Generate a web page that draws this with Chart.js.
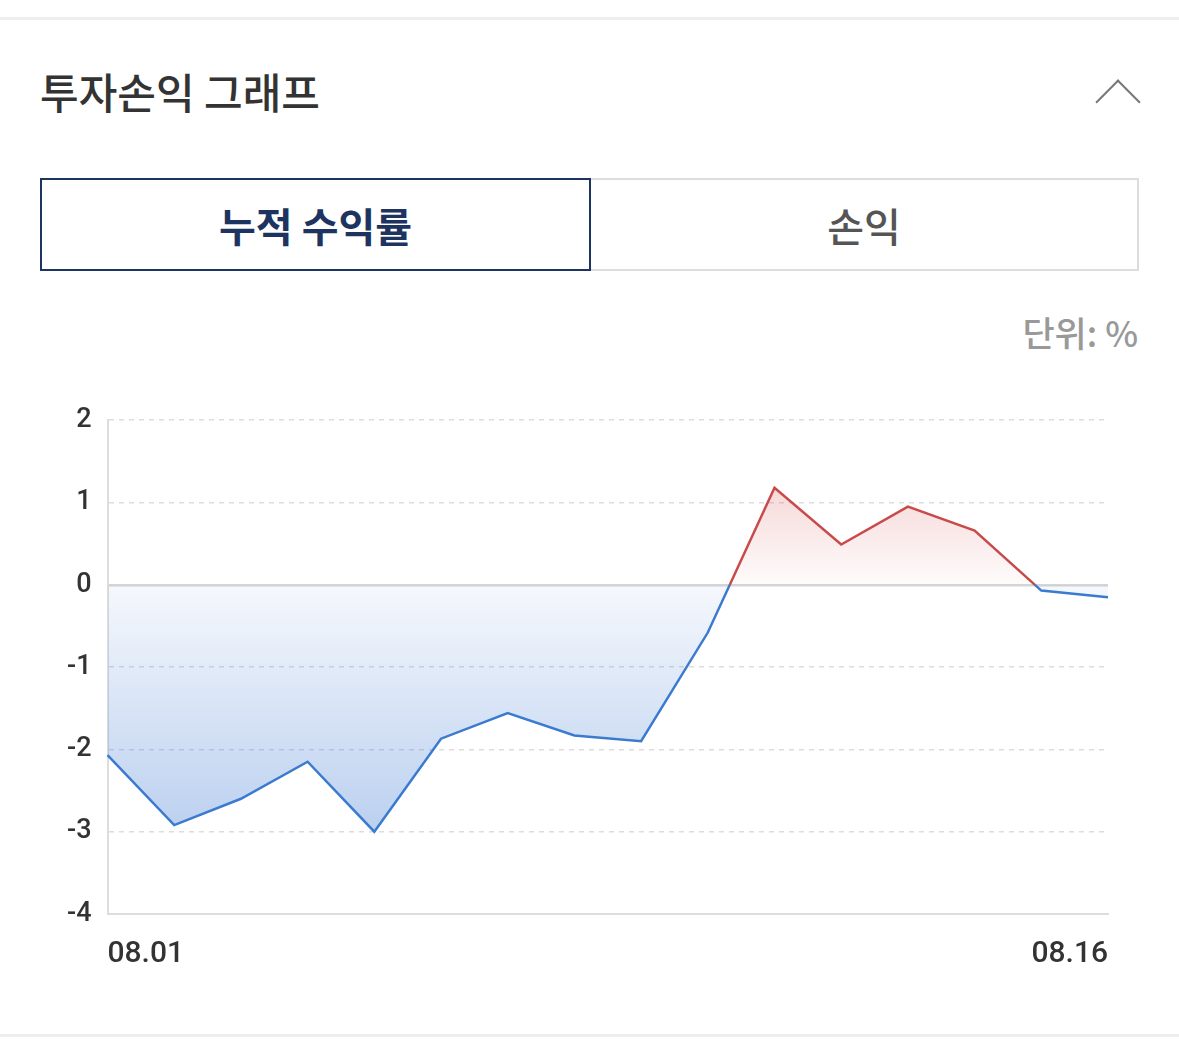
<!DOCTYPE html>
<html><head><meta charset="utf-8">
<script src="https://cdn.jsdelivr.net/npm/chart.js@4"></script>
<style>
body{margin:0;width:1179px;height:1057px;background:#fff;font-family:"Noto Sans CJK KR","Noto Sans",sans-serif;position:relative;overflow:hidden}
.line{position:absolute;left:0;width:1179px;height:3px;background:#eee}
#title{position:absolute;left:40px;top:60px;font-size:42px;font-weight:500;color:#333}
#chev{position:absolute;left:1102px;top:86px;width:30px;height:30px;border-left:2px solid #777;border-top:2px solid #777;transform:rotate(45deg)}
.tab{position:absolute;top:178px;height:93px;box-sizing:border-box;display:flex;align-items:center;justify-content:center;font-size:40px}
#t1{left:40px;width:551px;border:2px solid #1d3461;color:#1d3461;font-weight:700;z-index:2}
#t2{left:589px;width:550px;border:2px solid #ddd;color:#555;font-weight:500}
#unit{position:absolute;right:41px;top:306px;font-size:35px;color:#999;font-weight:500}
#wrap{position:absolute;left:51px;top:388px;width:1120px;height:598px}
</style></head><body>
<div class="line" style="top:17px"></div>
<div id="title">투자손익 그래프</div>
<div id="chev"></div>
<div class="tab" id="t1">누적 수익률</div>
<div class="tab" id="t2">손익</div>
<div id="unit">단위: %</div>
<div id="wrap"><canvas id="c"></canvas></div>
<div class="line" style="top:1034px"></div>
<script>
const dates=["08.01","08.02","08.03","08.04","08.05","08.06","08.07","08.08","08.09","08.10","08.11","08.12","08.13","08.14","08.15","08.16"];
const returns=[-2.07,-2.92,-2.6,-2.15,-3.0,-1.87,-1.56,-1.83,-1.9,-0.58,1.18,0.49,0.95,0.66,-0.07,-0.15];
const yTicks=[2,1,0,-1,-2,-3,-4];
function zeroGrad(ctx,a,b){
  const ch=ctx.chart,area=ch.chartArea;if(!area)return null;
  const y0=ch.scales.y.getPixelForValue(0);
  const g=ch.ctx.createLinearGradient(0,area.top,0,area.bottom);
  const s=Math.min(Math.max((y0-area.top)/(area.bottom-area.top),0),1);
  g.addColorStop(0,a);g.addColorStop(s,a);g.addColorStop(s,b);g.addColorStop(1,b);
  return g;
}
function fillGrad(ctx,up){
  const ch=ctx.chart,area=ch.chartArea;if(!area)return null;
  const y0=ch.scales.y.getPixelForValue(0);
  if(up){const yt=ch.scales.y.getPixelForValue(1.18);const g=ch.ctx.createLinearGradient(0,yt,0,y0);g.addColorStop(0,'rgba(214,80,80,0.22)');g.addColorStop(1,'rgba(214,80,80,0.02)');return g;}
  const yb=ch.scales.y.getPixelForValue(-3);const g=ch.ctx.createLinearGradient(0,y0,0,yb);g.addColorStop(0,'rgba(60,120,210,0.05)');g.addColorStop(1,'rgba(60,120,210,0.35)');return g;
}
new Chart(document.getElementById('c'),{type:'line',
data:{labels:dates,datasets:[{data:returns,borderWidth:2.5,pointRadius:0,tension:0,
 borderColor:ctx=>zeroGrad(ctx,'#c94a4a','#3a7bd0'),
 fill:{target:'origin',above:ctx=>fillGrad(ctx,true),below:ctx=>fillGrad(ctx,false)}}]},
options:{responsive:true,maintainAspectRatio:false,animation:false,
 plugins:{legend:{display:false},tooltip:{enabled:false}},
 layout:{padding:{right:63,top:10}},
 scales:{
  x:{grid:{display:false},border:{color:'#ddd',width:2},
   ticks:{autoSkip:false,maxRotation:0,align:'inner',padding:14,color:'#333',font:{size:30,weight:'500',family:'Roboto'},
    callback:(v,i)=>(i===0||i===dates.length-1)?dates[i]:''}},
  y:{min:-4,max:2,afterBuildTicks:ax=>{ax.ticks=yTicks.map(v=>({value:v}));},
   border:{color:'#ddd',width:2,dash:c=>(c.tick&&c.tick.value===0)?[]:[5,5]},
   grid:{drawTicks:false,color:c=>c.tick.value===0?'#d6d6d6':'#ddd',lineWidth:c=>c.tick.value===0?2.5:1.5},
   ticks:{padding:16,color:'#333',font:{size:27,weight:'500',family:'Roboto'}}}
 }}
});
</script>
</body></html>
